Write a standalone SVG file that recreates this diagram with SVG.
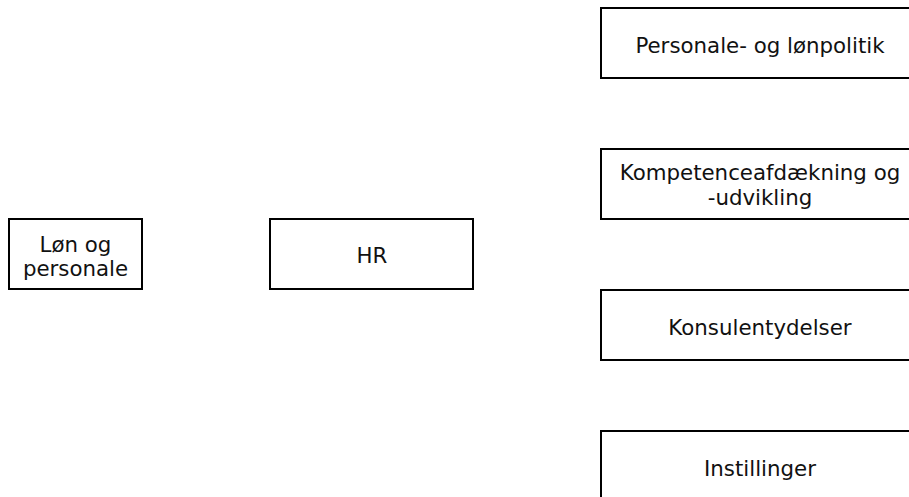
<svg xmlns="http://www.w3.org/2000/svg" width="909" height="497" viewBox="0 0 909 497">
<style>
.box{fill:#fff;stroke:#000;stroke-width:2}
.t{font-family:"DejaVu Sans",Verdana,sans-serif;font-size:21.33px;fill:#111;text-anchor:middle}
</style>
<rect width="909" height="497" fill="#fff"/>
<g id="connectors"></g>
<g id="n-lon">
<rect class="box" x="9" y="219" width="133" height="70"/>
<text class="t" x="75.5" y="252">Løn og</text>
<text class="t" x="75.5" y="276">personale</text>
</g>
<g id="n-hr">
<rect class="box" x="270" y="219" width="203" height="70"/>
<text class="t" x="372" y="263">HR</text>
</g>
<g id="n-politik">
<rect class="box" x="601" y="8" width="318" height="70"/>
<text class="t" x="760" y="53">Personale- og lønpolitik</text>
</g>
<g id="n-kompetence">
<rect class="box" x="601" y="149" width="318" height="70"/>
<text class="t" x="760" y="180">Kompetenceafdækning og</text>
<text class="t" x="760" y="204.5">-udvikling</text>
</g>
<g id="n-konsulent">
<rect class="box" x="601" y="290" width="318" height="70"/>
<text class="t" x="760" y="334.5">Konsulentydelser</text>
</g>
<g id="n-instillinger">
<rect class="box" x="601" y="431" width="318" height="70"/>
<text class="t" x="760" y="475.5">Instillinger</text>
</g>
</svg>
